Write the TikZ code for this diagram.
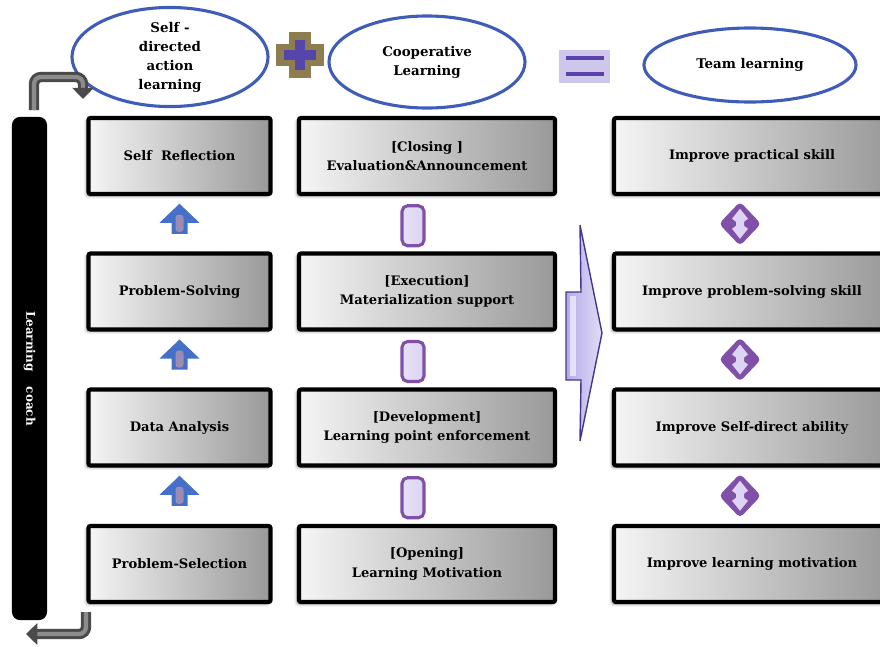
\documentclass[tikz,border=0pt]{standalone}
\usepackage{fontspec}
\setmainfont{DejaVu Serif}
\usetikzlibrary{shapes.geometric,shadows.blur,arrows.meta,calc,positioning}

\definecolor{ovalblue}{HTML}{3F5DB8}
\definecolor{arrowblue}{HTML}{4470C8}
\definecolor{stemmauve}{HTML}{9C8CB4}
\definecolor{linkpurple}{HTML}{8050A8}
\definecolor{linklight}{HTML}{DCD4F2}
\definecolor{plusgold}{HTML}{8E7D4F}
\definecolor{pluspurple}{HTML}{5646AC}
\definecolor{eqback}{HTML}{CEC7EC}
\definecolor{eqbar}{HTML}{5A40A8}
\definecolor{bigedge}{HTML}{46368E}
\definecolor{bigfill}{HTML}{B3AAE8}
\definecolor{bentgray}{HTML}{4A4A4A}

\tikzset{
  stepbox/.style={draw=black, line width=3pt, rounded corners=1.5pt,
    minimum height=1.9cm, align=center,
    left color=black!4, right color=black!40,
    blur shadow={shadow xshift=-1.5pt, shadow yshift=-1.5pt, shadow blur steps=6},
    font=\bfseries\fontsize{9.3}{14}\selectfont},
  oval/.style={ellipse, draw=ovalblue, line width=2.2pt, fill=white,
    align=center, inner sep=0pt, font=\bfseries\fontsize{9.5}{13.5}\selectfont},
  bent/.style={draw=bentgray, double=black!45, double distance=3pt,
    line width=2.2pt, rounded corners=5pt, -{Triangle[length=8pt,width=15pt]}},
}

\begin{document}
\begin{tikzpicture}[x=0.025cm, y=-0.025cm]
  \useasboundingbox (0,0) rectangle (880,646);

  % top row: the three ovals and the signs between them
  \node[oval, minimum width=4.9cm, minimum height=2.18cm] (selfdir) at (170,57)
    {Self -\\directed\\action\\learning};
  \node[oval, minimum width=4.9cm, minimum height=2.3cm] (coop) at (427,62)
    {Cooperative\\Learning};
  \node[oval, minimum width=5.3cm, minimum height=1.85cm] (team) at (750,65)
    {Team learning};

  \draw[plusgold, line width=15pt] (300,32) -- (300,78) (276,55) -- (324,55);
  \draw[pluspurple, line width=7pt] (300,40) -- (300,70) (284,55) -- (316,55);

  \fill[eqback] (559,50) rectangle (610,83);
  \draw[eqbar, line width=3pt] (566,58) -- (604,58) (566,74) -- (604,74);

  % first column: action learning steps
  \node[stepbox, minimum width=4.55cm] (refl) at (179.5,156) {Self\ \ Reflection};
  \node[stepbox, minimum width=4.55cm] (solve) at (179.5,291.5) {Problem-Solving};
  \node[stepbox, minimum width=4.55cm] (data) at (179.5,427.5) {Data Analysis};
  \node[stepbox, minimum width=4.55cm] (select) at (179.5,564) {Problem-Selection};

  % second column: lesson stages
  \node[stepbox, minimum width=6.4cm] (closing) at (427,156)
    {[Closing ]\\Evaluation\&Announcement};
  \node[stepbox, minimum width=6.4cm] (exec) at (427,291.5)
    {[Execution]\\Materialization support};
  \node[stepbox, minimum width=6.4cm] (devel) at (427,427.5)
    {[Development]\\Learning point enforcement};
  \node[stepbox, minimum width=6.4cm] (opening) at (427,564)
    {[Opening]\\Learning Motivation};

  % third column: outcomes
  \node[stepbox, minimum width=6.9cm] (practical) at (752,156) {Improve practical skill};
  \node[stepbox, minimum width=6.9cm] (probskill) at (752,291.5) {Improve problem-solving skill};
  \node[stepbox, minimum width=6.9cm] (selfabil) at (752,427.5) {Improve Self-direct ability};
  \node[stepbox, minimum width=6.9cm] (motiv) at (752,564) {Improve learning motivation};

  % up arrows between the steps
  \foreach \a/\b in {select/data, data/solve, solve/refl} {
    \begin{scope}[shift={($(\a.north)!0.5!(\b.south)$)}]
      \fill[arrowblue] (0,-20) -- (20,-1) -- (8,-1) -- (8,10) -- (-8,10)
        -- (-8,-1) -- (-20,-1) -- cycle;
      \fill[stemmauve, rounded corners=2pt] (-4,-9) rectangle (4,8);
    \end{scope}
  }

  % links between the stages
  \foreach \a/\b in {opening/devel, devel/exec, exec/closing} {
    \draw[linkpurple, line width=2.2pt, left color=linklight!70!white,
      right color=linklight, rounded corners=4pt]
      ($(\a.north)!0.5!(\b.south)+(-25,-18)$) rectangle ++(22,40);
  }

  % two-way diamonds between the outcomes
  \foreach \a/\b in {motiv/selfabil, selfabil/probskill, probskill/practical} {
    \begin{scope}[shift={($(\a.north)!0.5!(\b.south)+(-12,0)$)}]
      \fill[linkpurple, rounded corners=3pt] (0,-22) -- (21,0) -- (0,22) -- (-21,0) -- cycle;
      \fill[linklight] (0,-15) -- (8,-5) -- (4,-2) -- (4,2) -- (8,5) -- (0,15)
        -- (-8,5) -- (-4,2) -- (-4,-2) -- (-8,-5) -- cycle;
    \end{scope}
  }

  % big arrow from the stages to the outcomes
  \draw[bigedge, line width=1pt, left color=bigfill, right color=bigfill!40!white]
    (566,292) -- (581,292) -- (580,225) -- (602,333) -- (580,441) -- (581,380)
    -- (566,380) -- cycle;
  \fill[white, opacity=0.6] (570,296) rectangle (576,376);

  % coach bar on the left
  \node[rotate=-90, fill=black, rounded corners=0.2cm, text=white,
    minimum width=12.575cm, minimum height=0.875cm,
    font=\bfseries\fontsize{8.5}{11}\selectfont] (coach) at (29.5,368.5)
    {Learning\hspace{1.3em}coach};

  \coordinate (upstart) at (34,110);
  \coordinate (uptip) at (83,99);
  \coordinate (downstart) at (86,612);
  \coordinate (downtip) at (26,634);
  \draw[bent] (upstart) |- ([yshift=0.55cm]uptip) -- (uptip);
  \draw[bent] (downstart) |- (downtip);
\end{tikzpicture}
\end{document}
